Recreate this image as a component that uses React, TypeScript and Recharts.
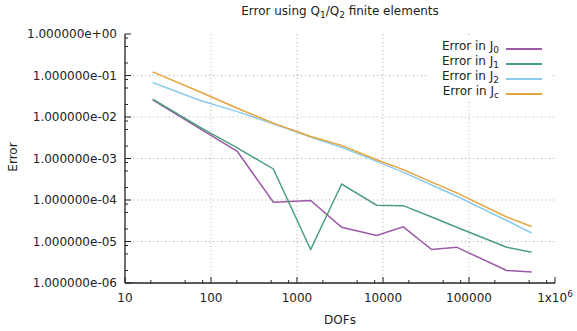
import { LineChart, Line, XAxis, YAxis, Legend, ReferenceLine } from 'recharts'

const dofs = [21, 75, 202, 531, 1442, 3304, 8430, 17200, 36800, 71900, 274000, 535000]

const errJ0 = [0.0259, 5.2e-3, 1.48e-3, 8.8e-5, 9.7e-5, 2.2e-5, 1.4e-5, 2.25e-5, 6.4e-6, 7.3e-6, 2.0e-6, 1.83e-6]
const errJ1 = [0.0269, 5.6e-3, 1.8e-3, 5.6e-4, 6.4e-6, 2.43e-4, 7.5e-5, 7.3e-5, 3.9e-5, 2.2e-5, 7.3e-6, 5.5e-6]
const errJ2 = [0.068, 0.025, 0.0135, 6.9e-3, 3.3e-3, 1.86e-3, 8.5e-4, 4.7e-4, 2.3e-4, 1.23e-4, 3.2e-5, 1.6e-5]
const errJc = [0.122, 0.04, 0.0163, 7.1e-3, 3.4e-3, 2.07e-3, 9.3e-4, 5.4e-4, 2.7e-4, 1.48e-4, 3.9e-5, 2.3e-5]

const seriesKeys = ['j0', 'j1', 'j2', 'jc']
const seriesSubs = ['0', '1', '2', 'c']
const seriesColors = ['#9a58a6', '#4a9f7c', '#8ccaec', '#e5a43c']

const xMajor = [10, 100, 1000, 10000, 100000, 1000000]
const yMajor = [1e-6, 1e-5, 1e-4, 1e-3, 1e-2, 1e-1, 1]
const minorSteps = [2, 5, 8]

const FONT = '"DejaVu Sans", sans-serif'
const INK = '#222'

const data = dofs.map((d, i) => ({
  dofs: d,
  j0: errJ0[i],
  j1: errJ1[i],
  j2: errJ2[i],
  jc: errJc[i],
}))

function withMinor(majors: number[]): number[] {
  const out: number[] = []
  majors.forEach((m, i) => {
    out.push(m)
    if (i < majors.length - 1) minorSteps.forEach((s) => out.push(m * s))
  })
  return out
}

const xTicks = withMinor(xMajor)
const yTicks = withMinor(yMajor)

function isMajor(v: number) {
  const l = Math.log10(v)
  return Math.abs(l - Math.round(l)) < 1e-6
}

function formatExp(v: number) {
  const e = Math.round(Math.log10(v))
  const sign = e < 0 ? '-' : '+'
  const abs = Math.abs(e)
  return `1.000000e${sign}${abs < 10 ? '0' + abs : abs}`
}

function BottomTick(props: any) {
  const { x, y, payload } = props
  const v = payload.value
  const major = isMajor(v)
  const e = Math.round(Math.log10(v))
  return (
    <g>
      <line x1={x} x2={x} y1={y} y2={y - (major ? 6 : 3)} stroke={INK} />
      {major && (
        <text x={x} y={y + 19} textAnchor="middle" fontFamily={FONT} fontSize={12} fill={INK}>
          {e === 6 ? (
            <>
              1x10<tspan dy={-5} fontSize={9}>6</tspan>
            </>
          ) : (
            String(Math.round(v))
          )}
        </text>
      )}
    </g>
  )
}

function TopTick(props: any) {
  const { x, y, payload } = props
  const major = isMajor(payload.value)
  return <line x1={x} x2={x} y1={y} y2={y + (major ? 6 : 3)} stroke={INK} />
}

function LeftTick(props: any) {
  const { x, y, payload } = props
  const major = isMajor(payload.value)
  return (
    <g>
      <line x1={x} x2={x + (major ? 6 : 3)} y1={y} y2={y} stroke={INK} />
      {major && (
        <text x={x - 8} y={y + 4} textAnchor="end" fontFamily={FONT} fontSize={12} fill={INK}>
          {formatExp(payload.value)}
        </text>
      )}
    </g>
  )
}

function RightTick(props: any) {
  const { x, y, payload } = props
  const major = isMajor(payload.value)
  return <line x1={x} x2={x - (major ? 6 : 3)} y1={y} y2={y} stroke={INK} />
}

function LegendBox(props: any) {
  const payload = props.payload || []
  return (
    <div style={{ background: '#fff', width: 122, height: 62, paddingTop: 3, boxSizing: 'border-box' }}>
      {payload.map((p: any, i: number) => (
        <div key={i} style={{ display: 'flex', alignItems: 'center', height: 15 }}>
          <span
            style={{
              width: 71,
              textAlign: 'right',
              fontFamily: FONT,
              fontSize: 12,
              color: INK,
              whiteSpace: 'nowrap',
              lineHeight: '15px',
            }}
          >
            {p.value}
            <sub style={{ fontSize: 9, verticalAlign: -3 }}>{seriesSubs[i]}</sub>
          </span>
          <span style={{ display: 'inline-block', marginLeft: 7, width: 36, height: 2, background: p.color }} />
        </div>
      ))}
    </div>
  )
}

export default function App() {
  return (
    <div style={{ position: 'absolute', left: 0, top: 0, width: 577, height: 331, background: '#fff' }}>
      <div
        style={{
          position: 'absolute',
          left: 140,
          top: 4,
          width: 400,
          textAlign: 'center',
          fontFamily: FONT,
          fontSize: 12,
          color: INK,
        }}
      >
        Error using Q<sub style={{ fontSize: 9 }}>1</sub>/Q<sub style={{ fontSize: 9 }}>2</sub> finite elements
      </div>
      <div
        style={{
          position: 'absolute',
          left: -12,
          top: 150,
          width: 50,
          textAlign: 'center',
          transform: 'rotate(-90deg)',
          fontFamily: FONT,
          fontSize: 12,
          color: INK,
        }}
      >
        Error
      </div>
      <div
        style={{
          position: 'absolute',
          left: 290,
          top: 313,
          width: 100,
          textAlign: 'center',
          fontFamily: FONT,
          fontSize: 12,
          color: INK,
        }}
      >
        DOFs
      </div>
      <LineChart width={577} height={331} data={data} margin={{ top: 34, right: 22, bottom: 18, left: 0 }}>
        <XAxis
          dataKey="dofs"
          type="number"
          scale="log"
          domain={[10, 1000000]}
          ticks={xTicks}
          interval={0}
          height={30}
          tickSize={0}
          tickMargin={0}
          tickLine={false}
          axisLine={{ stroke: INK, strokeWidth: 1.3 }}
          tick={(p: any) => <BottomTick {...p} />}
        />
        <XAxis
          xAxisId="top"
          orientation="top"
          dataKey="dofs"
          type="number"
          scale="log"
          domain={[10, 1000000]}
          ticks={xTicks}
          interval={0}
          height={0}
          tickSize={0}
          tickMargin={0}
          tickLine={false}
          axisLine={{ stroke: INK, strokeWidth: 1.3 }}
          tick={(p: any) => <TopTick {...p} />}
        />
        <YAxis
          type="number"
          scale="log"
          domain={[1e-6, 1]}
          ticks={yTicks}
          interval={0}
          width={125}
          tickSize={0}
          tickMargin={0}
          tickLine={false}
          axisLine={{ stroke: INK, strokeWidth: 1.3 }}
          tick={(p: any) => <LeftTick {...p} />}
        />
        <YAxis
          yAxisId="right"
          orientation="right"
          type="number"
          scale="log"
          domain={[1e-6, 1]}
          ticks={yTicks}
          interval={0}
          width={0}
          tickSize={0}
          tickMargin={0}
          tickLine={false}
          axisLine={{ stroke: INK, strokeWidth: 1.3 }}
          tick={(p: any) => <RightTick {...p} />}
        />
        {xMajor.slice(1, -1).map((v) => (
          <ReferenceLine key={'gx' + v} x={v} stroke="#aaa" strokeDasharray="1 3" />
        ))}
        {yMajor.slice(1, -1).map((v) => (
          <ReferenceLine key={'gy' + v} y={v} stroke="#aaa" strokeDasharray="1 3" />
        ))}
        {seriesKeys.map((k, i) => (
          <Line
            key={k}
            dataKey={k}
            name="Error in J"
            type="linear"
            stroke={seriesColors[i]}
            strokeWidth={1.5}
            dot={false}
            isAnimationActive={false}
          />
        ))}
        <Legend
          verticalAlign="middle"
          align="center"
          content={(p: any) => <LegendBox {...p} />}
          wrapperStyle={{ left: 428, top: 38, width: 122, height: 62 }}
        />
      </LineChart>
    </div>
  )
}
